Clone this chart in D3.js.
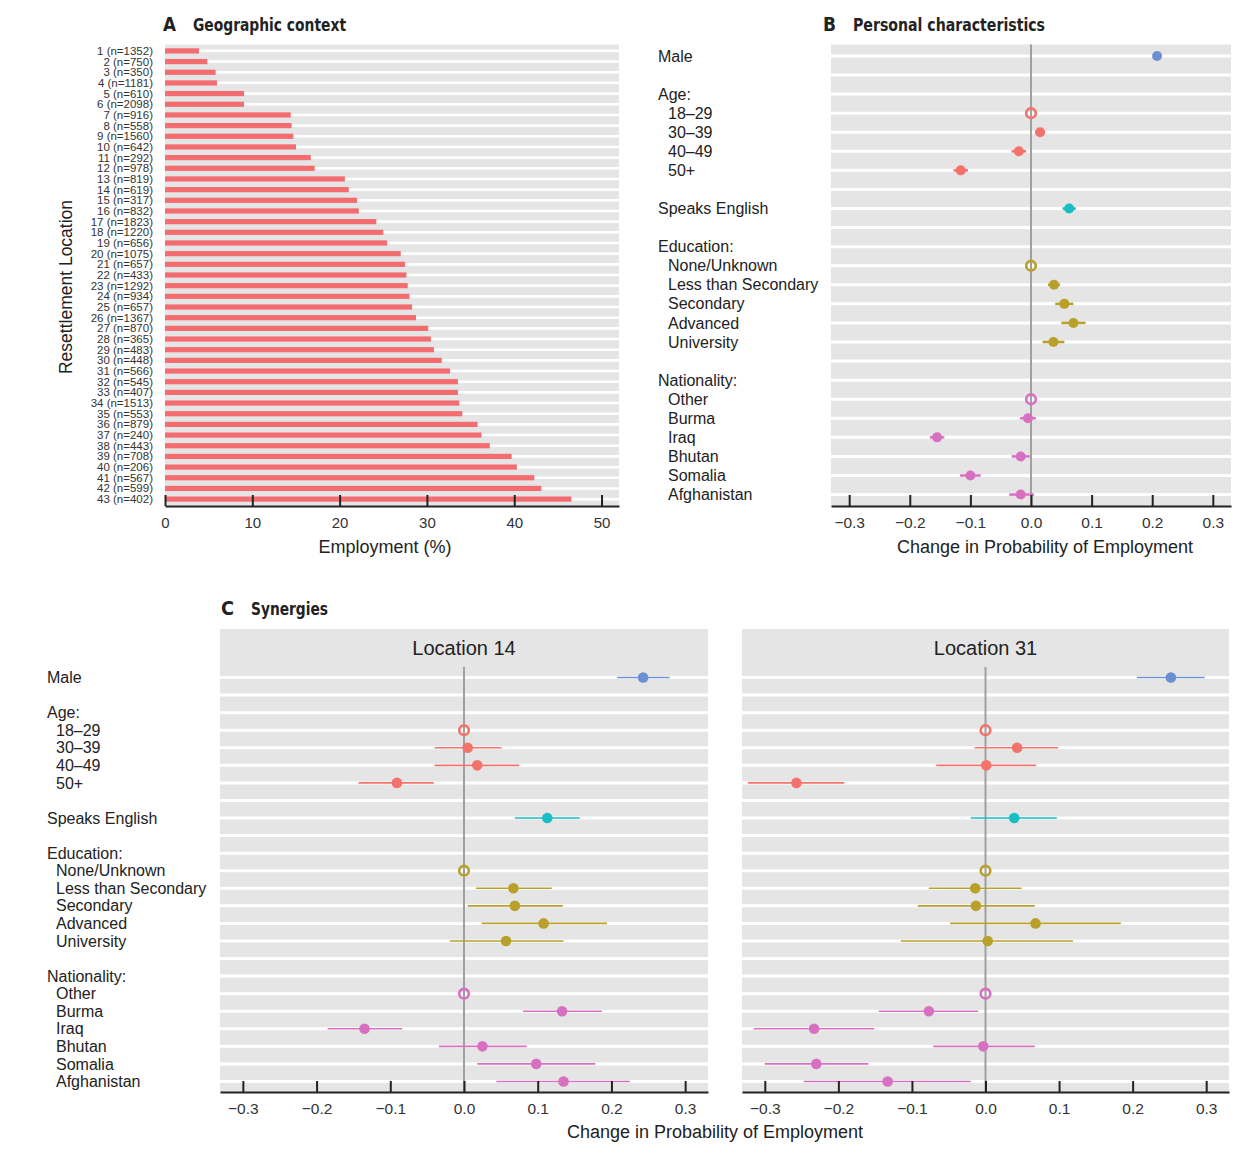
<!DOCTYPE html>
<html><head><meta charset="utf-8">
<script src="https://cdn.jsdelivr.net/npm/d3@7"></script>
<style>
body{margin:0;background:#fff;}
text{font-family:"Liberation Sans",Arial,Helvetica,sans-serif;}
.ttl{font-family:"Liberation Sans Narrow","DejaVu Sans Condensed","Liberation Sans",sans-serif;font-weight:bold;font-stretch:condensed;}
</style>
</head><body>
<svg id="chart" width="1245" height="1154"></svg>
<script>
// ---------------- DATA ----------------
const locationLabels = ["1 (n=1352)","2 (n=750)","3 (n=350)","4 (n=1181)","5 (n=610)","6 (n=2098)","7 (n=916)","8 (n=558)","9 (n=1560)","10 (n=642)","11 (n=292)","12 (n=978)","13 (n=819)","14 (n=619)","15 (n=317)","16 (n=832)","17 (n=1823)","18 (n=1220)","19 (n=656)","20 (n=1075)","21 (n=657)","22 (n=433)","23 (n=1292)","24 (n=934)","25 (n=657)","26 (n=1367)","27 (n=870)","28 (n=365)","29 (n=483)","30 (n=448)","31 (n=566)","32 (n=545)","33 (n=407)","34 (n=1513)","35 (n=553)","36 (n=879)","37 (n=240)","38 (n=443)","39 (n=708)","40 (n=206)","41 (n=567)","42 (n=599)","43 (n=402)"];
const employmentPct = [3.9,4.85,5.8,5.95,9.05,9.05,14.4,14.5,14.7,15.0,16.7,17.15,20.6,21.05,22.0,22.2,24.2,25.0,25.45,27.0,27.5,27.65,27.8,28.0,28.3,28.75,30.15,30.45,30.8,31.7,32.65,33.55,33.55,33.7,34.05,35.8,36.25,37.2,39.7,40.3,42.3,43.1,46.55];
const employmentTicks = [0,10,20,30,40,50];

const rowLabels = ["Male","","Age:","18–29","30–39","40–49","50+","","Speaks English","","Education:","None/Unknown","Less than Secondary","Secondary","Advanced","University","","Nationality:","Other","Burma","Iraq","Bhutan","Somalia","Afghanistan"];
const headerLabels = ["Male","Age:","Speaks English","Education:","Nationality:"];

const terms = ["Male","18–29","30–39","40–49","50+","Speaks English","None/Unknown","Less than Secondary","Secondary","Advanced","University","Other","Burma","Iraq","Bhutan","Somalia","Afghanistan"];
const termGroups = ["Male","Age","Age","Age","Age","English","Education","Education","Education","Education","Education","Nationality","Nationality","Nationality","Nationality","Nationality","Nationality"];
const referenceTerms = ["18–29","None/Unknown","Other"];

const personalEst = [0.208,0,0.015,-0.020,-0.116,0.063,0,0.038,0.055,0.070,0.037,0,-0.005,-0.155,-0.017,-0.100,-0.017];
const personalLo  = [0.202,0,0.007,-0.032,-0.128,0.052,0,0.028,0.040,0.050,0.019,0,-0.018,-0.167,-0.032,-0.117,-0.036];
const personalHi  = [0.214,0,0.023,-0.008,-0.104,0.074,0,0.048,0.070,0.090,0.055,0,0.008,-0.143,-0.002,-0.083,0.005];

const loc14Est = [0.243,0,0.005,0.018,-0.091,0.113,0,0.067,0.069,0.108,0.057,0,0.133,-0.135,0.025,0.098,0.135];
const loc14Lo  = [0.208,0,-0.040,-0.040,-0.143,0.069,0,0.016,0.005,0.024,-0.019,0,0.080,-0.185,-0.034,0.018,0.044];
const loc14Hi  = [0.279,0,0.051,0.075,-0.041,0.157,0,0.119,0.134,0.194,0.135,0,0.187,-0.084,0.085,0.178,0.225];

const loc31Est = [0.252,0,0.043,0.001,-0.257,0.039,0,-0.014,-0.013,0.068,0.003,0,-0.077,-0.233,-0.003,-0.230,-0.133];
const loc31Lo  = [0.206,0,-0.015,-0.067,-0.323,-0.020,0,-0.077,-0.092,-0.048,-0.115,0,-0.145,-0.315,-0.071,-0.300,-0.247];
const loc31Hi  = [0.298,0,0.099,0.069,-0.192,0.097,0,0.049,0.067,0.184,0.119,0,-0.010,-0.151,0.067,-0.159,-0.020];

const facetTitles = ["Location 14","Location 31"];
const probTicks = [-0.3,-0.2,-0.1,0,0.1,0.2,0.3];

// ---------------- STYLE ----------------
const BG = "#E5E5E5";
const TXT = "#222";
const color = d3.scaleOrdinal()
  .domain(["Male","Age","English","Education","Nationality"])
  .range(["#6A8FD3","#F4726C","#17BEC3","#B9A02B","#D870C1"]);

const svg = d3.select("#chart");

function drawAxis(g, x, yAxis, ticks, fmt, fontSize){
  const ax = d3.axisBottom(x).tickValues(ticks).tickFormat(fmt)
    .tickSizeInner(-11).tickSizeOuter(0).tickPadding(11);
  const a = g.append("g").attr("transform", `translate(0,${yAxis})`).call(ax);
  a.select(".domain").attr("stroke","#222").attr("stroke-width",2);
  a.selectAll(".tick line").attr("stroke","#222").attr("stroke-width",2);
  a.selectAll(".tick text").attr("fill","#333").style("font-size",fontSize+"px")
    .style("font-family",'"Liberation Sans",Arial,sans-serif');
  return a;
}

function title(x, y, letter, txt, w){
  svg.append("text").attr("class","ttl").attr("x",x).attr("y",y)
    .style("font-size","20px").attr("fill","#222").attr("textLength",13)
    .attr("lengthAdjust","spacingAndGlyphs").text(letter);
  svg.append("text").attr("class","ttl").attr("x",x+30).attr("y",y)
    .style("font-size","18.5px").attr("fill","#222").attr("textLength",w)
    .attr("lengthAdjust","spacingAndGlyphs").text(txt);
}

// ---------------- PANEL A ----------------
(function(){
  const left = 165, right = 619, top = 44.5, bottom = 505.5;
  const g = svg.append("g");
  const x = d3.scaleLinear().domain([0,52]).range([left,right]);
  const y = d3.scalePoint().domain(locationLabels).range([top,bottom]).padding(0.6);
  g.append("rect").attr("x",left).attr("y",top).attr("width",right-left).attr("height",bottom-top).attr("fill",BG);
  g.selectAll("line.grid").data(locationLabels).join("line")
    .attr("x1",left).attr("x2",right).attr("y1",d=>y(d)).attr("y2",d=>y(d))
    .attr("stroke","#fff").attr("stroke-width",2.6);
  g.selectAll("rect.bar").data(locationLabels).join("rect")
    .attr("x",x(0)).attr("y",d=>y(d)-2.6)
    .attr("width",(d,i)=>x(employmentPct[i])-x(0)).attr("height",5.2)
    .attr("fill","#F26C70");
  g.selectAll("text.lab").data(locationLabels).join("text")
    .attr("x",153).attr("y",d=>y(d)).attr("text-anchor","end").attr("dy","0.35em")
    .style("font-size","11.5px").attr("fill","#333").text(d=>d);
  drawAxis(g, x, 506, employmentTicks, d3.format("d"), 15);
  g.append("text").attr("x",385).attr("y",553).attr("text-anchor","middle")
    .style("font-size","18px").attr("fill",TXT).text("Employment (%)");
  g.append("text").attr("transform","translate(72,287) rotate(-90)").attr("text-anchor","middle")
    .style("font-size","17.5px").attr("fill",TXT).text("Resettlement Location");
  title(163, 31, "A", "Geographic context", 153);
})();

// ---------------- DOT PANEL ----------------
function dotPanel(g, x, top, bottom, est, lo, hi, opt){
  const left = x.range()[0], right = x.range()[1];
  const y = d3.scalePoint().domain(d3.range(rowLabels.length)).range([top,bottom]).padding(0.6);
  g.append("rect").attr("x",left).attr("y",opt.bgTop ?? top).attr("width",right-left)
    .attr("height",bottom-(opt.bgTop ?? top)).attr("fill",BG);
  g.selectAll("line.grid").data(d3.range(rowLabels.length)).join("line")
    .attr("x1",left).attr("x2",right).attr("y1",d=>y(d)).attr("y2",d=>y(d))
    .attr("stroke","#fff").attr("stroke-width",opt.gridW);
  g.append("line").attr("x1",x(0)).attr("x2",x(0)).attr("y1",top).attr("y2",bottom)
    .attr("stroke","#A0A0A0").attr("stroke-width",2);
  const rowOf = t => rowLabels.indexOf(t);
  g.selectAll("line.err").data(terms).join("line")
    .attr("x1",(d,i)=>x(lo[i])).attr("x2",(d,i)=>x(hi[i]))
    .attr("y1",d=>y(rowOf(d))).attr("y2",d=>y(rowOf(d)))
    .attr("stroke",(d,i)=>color(termGroups[i])).attr("stroke-width",opt.errW);
  g.selectAll("circle.pt").data(terms).join("circle")
    .attr("cx",(d,i)=>x(est[i])).attr("cy",d=>y(rowOf(d)))
    .attr("r",d=>referenceTerms.includes(d)?4.8:opt.r)
    .attr("fill",(d,i)=>referenceTerms.includes(d)?"none":color(termGroups[i]))
    .attr("stroke",(d,i)=>referenceTerms.includes(d)?color(termGroups[i]):"none")
    .attr("stroke-width",2.6);
  drawAxis(g, x, bottom, probTicks, d3.format(".1f"), 15.5);
  return y;
}

function rowText(g, y, xHeader, xItem){
  g.selectAll("text.rl").data(d3.range(rowLabels.length).filter(i=>rowLabels[i]!=="")).join("text")
    .attr("x",i=>headerLabels.includes(rowLabels[i])?xHeader:xItem)
    .attr("y",i=>y(i)).attr("dy","0.35em")
    .style("font-size","16px").attr("fill",TXT).text(i=>rowLabels[i]);
}

// ---------------- PANEL B ----------------
(function(){
  const g = svg.append("g");
  const x = d3.scaleLinear().domain([-0.33,0.33]).range([831,1231]);
  const y = dotPanel(g, x, 44.5, 506, personalEst, personalLo, personalHi, {gridW:3, errW:2.5, r:5});
  rowText(g, y, 658, 668);
  g.append("text").attr("x",1045).attr("y",553).attr("text-anchor","middle")
    .style("font-size","18px").attr("fill",TXT).text("Change in Probability of Employment");
  title(823, 31, "B", "Personal characteristics", 192);
})();

// ---------------- PANEL C ----------------
(function(){
  const facets = [
    {range:[220,708], est:loc14Est, lo:loc14Lo, hi:loc14Hi},
    {range:[742,1229], est:loc31Est, lo:loc31Lo, hi:loc31Hi}
  ];
  let yRef;
  facets.forEach((f,k)=>{
    const g = svg.append("g");
    const x = d3.scaleLinear().domain([-0.331,0.331]).range(f.range);
    yRef = dotPanel(g, x, 667, 1092, f.est, f.lo, f.hi, {gridW:3, errW:1.6, r:5.3, bgTop:629});
    g.append("text").attr("x",(f.range[0]+f.range[1])/2).attr("y",648).attr("dy","0.35em")
      .attr("text-anchor","middle").style("font-size","20px").attr("fill",TXT).text(facetTitles[k]);
  });
  const g = svg.append("g");
  rowText(g, yRef, 47, 56);
  g.append("text").attr("x",715).attr("y",1138).attr("text-anchor","middle")
    .style("font-size","18px").attr("fill",TXT).text("Change in Probability of Employment");
  title(221, 615, "C", "Synergies", 77);
})();
</script>
</body></html>
